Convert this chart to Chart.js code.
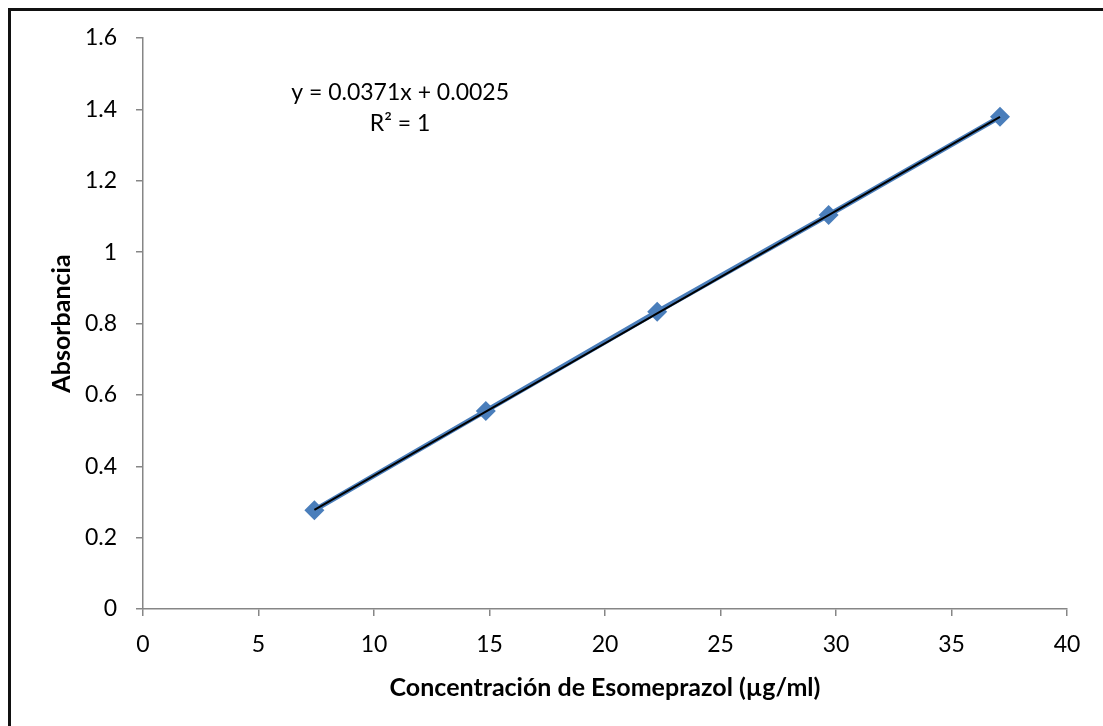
<!DOCTYPE html>
<html>
<head>
<meta charset="utf-8">
<script src="https://cdn.jsdelivr.net/npm/chart.js@4.4.1/dist/chart.umd.min.js"></script>
<style>
  html, body { margin: 0; padding: 0; background: #fff; }
  #wrap { width: 1103px; height: 726px; position: relative; }
</style>
</head>
<body>
<div id="wrap"><canvas id="myChart"></canvas></div>
<script>
  // concentration (ug/ml) and absorbance
  const conc = [7.42, 14.84, 22.26, 29.68, 37.1];
  const absorb = [0.277, 0.555, 0.833, 1.104, 1.379];

  // linear trendline, end points as drawn
  const trendX = [7.42, 37.1];
  const trendY = [0.278, 1.379];

  const xTicks = [0, 5, 10, 15, 20, 25, 30, 35, 40];
  const yTicks = [0, 0.2, 0.4, 0.6, 0.8, 1, 1.2, 1.4, 1.6];

  const eqLines = ['y = 0.0371x + 0.0025', 'R² = 1'];
  const eqPos = [[11.13, 1.448], [11.13, 1.36]];

  const tickFont = { family: 'Lato', size: 23 };
  const titleFont = { family: 'Lato', size: 25, weight: 'bold' };

  const frame = {
    id: 'frame',
    beforeDraw(chart) {
      const ctx = chart.ctx;
      ctx.save();
      ctx.fillStyle = '#fff';
      ctx.fillRect(0, 0, chart.width, chart.height);
      ctx.fillStyle = '#111';
      ctx.fillRect(8, 8, chart.width, 3);
      ctx.fillRect(8, 8, 3, chart.height);
      ctx.restore();
    }
  };

  const equation = {
    id: 'equation',
    afterDatasetsDraw(chart) {
      const ctx = chart.ctx;
      const xs = chart.scales.x, ys = chart.scales.y;
      ctx.save();
      ctx.font = '23px Lato';
      ctx.fillStyle = '#000';
      ctx.textAlign = 'center';
      ctx.textBaseline = 'middle';
      eqLines.forEach((t, i) => {
        ctx.fillText(t, xs.getPixelForValue(eqPos[i][0]), ys.getPixelForValue(eqPos[i][1]));
      });
      ctx.restore();
    }
  };

  const data = {
    datasets: [{
      label: 'Absorbancia',
      data: conc.map((c, i) => ({ x: c, y: absorb[i] })),
      showLine: true,
      borderColor: '#4a7ebb',
      backgroundColor: '#4a7ebb',
      borderWidth: 5,
      pointStyle: 'rectRot',
      pointRadius: 10,
      pointBorderWidth: 0,
      order: 2
    }, {
      label: 'Lineal',
      data: trendX.map((c, i) => ({ x: c, y: trendY[i] })),
      showLine: true,
      borderColor: '#000',
      borderWidth: 2,
      pointRadius: 0,
      order: 1
    }]
  };

  const config = {
    type: 'scatter',
    data: data,
    plugins: [frame, equation],
    options: {
      responsive: false,
      animation: false,
      layout: { padding: { left: 0, right: 36, top: 38, bottom: 0 } },
      plugins: { legend: { display: false }, tooltip: { enabled: false } },
      scales: {
        x: {
          type: 'linear',
          min: 0, max: 40,
          afterBuildTicks: s => { s.ticks = xTicks.map(v => ({ value: v })); },
          afterFit: s => { s.height = 117; },
          grid: { drawOnChartArea: false, drawTicks: true, tickLength: 7, color: '#868686', lineWidth: 1.5 },
          border: { color: '#868686', width: 1.5 },
          ticks: { color: '#000', font: tickFont, padding: 15, maxRotation: 0 },
          title: { display: true, text: 'Concentración de Esomeprazol (µg/ml)', color: '#000', font: titleFont, padding: { top: 0, bottom: 23 } }
        },
        y: {
          type: 'linear',
          min: 0, max: 1.6,
          afterBuildTicks: s => { s.ticks = yTicks.map(v => ({ value: v })); },
          afterFit: s => { s.width = 143; },
          grid: { drawOnChartArea: false, drawTicks: true, tickLength: 7, color: '#868686', lineWidth: 1.5 },
          border: { color: '#868686', width: 1.5 },
          ticks: { color: '#000', font: tickFont, padding: 19, callback: v => String(+v.toFixed(1)) },
          title: { display: true, text: 'Absorbancia', color: '#000', font: titleFont, padding: { top: 47, bottom: 0 } }
        }
      }
    }
  };

  const canvas = document.getElementById('myChart');
  canvas.width = 1103;
  canvas.height = 726;
  const myChart = new Chart(canvas, config);
</script>
</body>
</html>
